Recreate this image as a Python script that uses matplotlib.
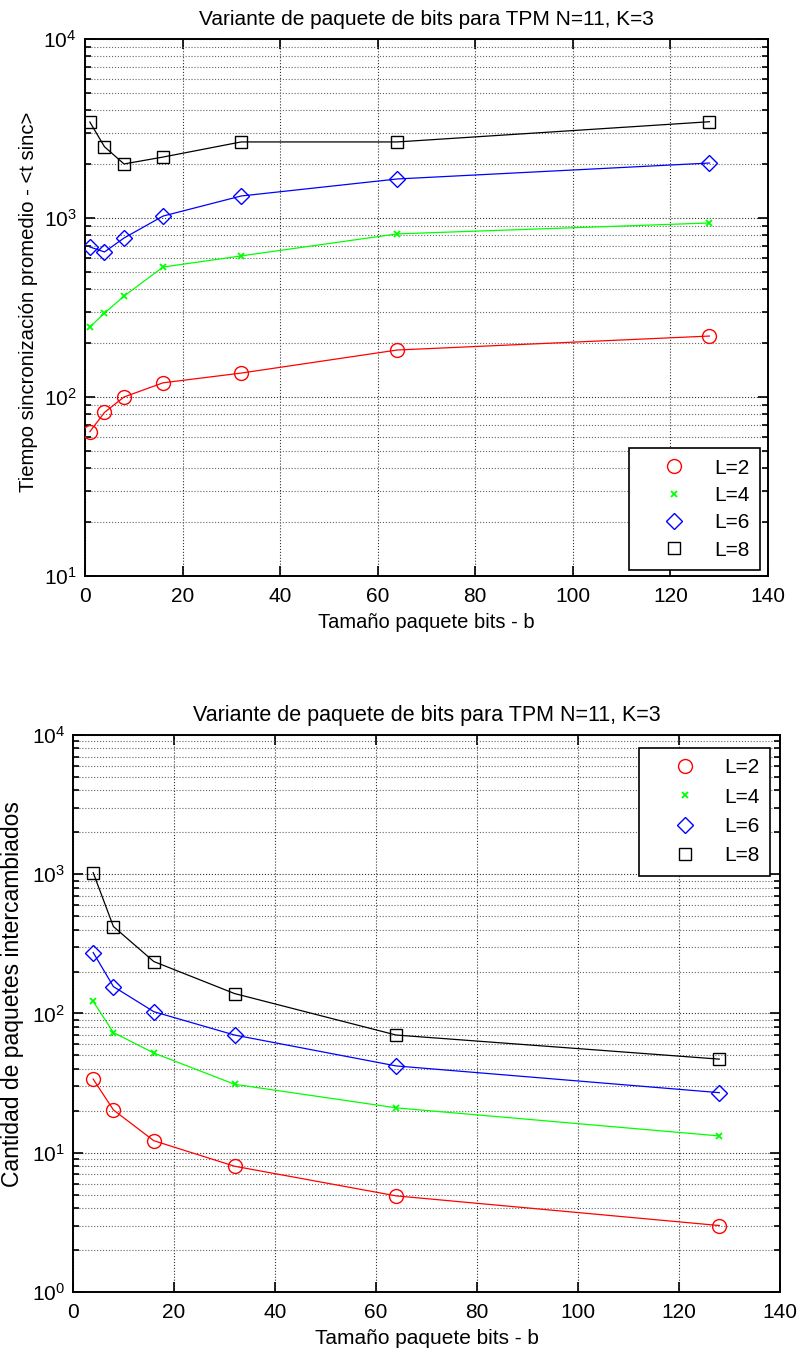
import matplotlib
matplotlib.use("Agg")
import matplotlib.pyplot as plt
from matplotlib.ticker import LogLocator, FixedLocator, NullFormatter

plt.rcParams['font.family'] = ['Liberation Sans', 'DejaVu Sans']
plt.rcParams['mathtext.fontset'] = 'custom'
plt.rcParams['mathtext.rm'] = 'Liberation Sans'
plt.rcParams['mathtext.it'] = 'Liberation Sans'

title = "Variante de paquete de bits para TPM N=11, K=3"
xlabel = "Tamaño paquete bits - b"
ylabel_top = "Tiempo sincronización promedio - <t sinc>"
ylabel_bot = "Cantidad de paquetes intercambiados"
labels = ["L=2", "L=4", "L=6", "L=8"]

# Top chart data
b_top = [1, 4, 8, 16, 32, 64, 128]
t_L2 = [64, 82, 100, 120, 136, 183, 219]
t_L4 = [246, 294, 366, 532, 614, 815, 938]
t_L6 = [689, 646, 773, 1025, 1327, 1652, 2028]
t_L8 = [3436, 2500, 2004, 2190, 2660, 2660, 3450]

# Bottom chart data
b_bot = [4, 8, 16, 32, 64, 128]
p_L2 = [33.8, 20.3, 12.2, 8.0, 4.9, 3.0]
p_L4 = [122, 73, 52, 31, 21, 13.2]
p_L6 = [274, 156, 103, 70, 42, 27]
p_L8 = [1025, 421, 236, 139, 70, 47]

colors = ['#ff0000', '#00ff00', '#0000ff', '#000000']
markers = ['o', 'x', 'D', 's']
msizes = [10, 5, 8, 9]

fig = plt.figure(figsize=(8.04, 13.54), dpi=100)
ax1 = fig.add_axes([0.1057, 0.5746, 0.8495, 0.3966])
ax2 = fig.add_axes([0.0908, 0.0458, 0.8792, 0.4114])

def style(ax, ylim, ylabel, tsize, xlsize, ylsize, ycoords):
    ax.set_yscale('log')
    ax.set_xlim(0, 140)
    ax.set_ylim(*ylim)
    ax.xaxis.set_major_locator(FixedLocator(range(0, 141, 20)))
    ax.yaxis.set_major_locator(LogLocator(base=10, numticks=10))
    ax.yaxis.set_minor_locator(LogLocator(base=10, subs=range(2, 10), numticks=20))
    ax.yaxis.set_minor_formatter(NullFormatter())
    ax.tick_params(which='both', direction='in', top=True, right=True,
                   labelsize=15, width=1.2, color='black')
    ax.tick_params(which='major', length=7)
    ax.tick_params(which='minor', length=4)
    ax.tick_params(axis='x', which='major', pad=8)
    ax.tick_params(axis='y', which='major', pad=6)
    ax.grid(True, which='major', axis='both', linestyle=':', color='0.2', linewidth=0.8)
    ax.grid(True, which='minor', axis='y', linestyle=':', color='0.4', linewidth=0.8)
    for s in ax.spines.values():
        s.set_linewidth(1.4)
    ax.set_title(title, fontsize=tsize, pad=10)
    ax.set_xlabel(xlabel, fontsize=xlsize, labelpad=5)
    ax.set_ylabel(ylabel, fontsize=ylsize)
    ax.yaxis.label.set_verticalalignment('center')
    ax.yaxis.set_label_coords(*ycoords)

def draw(ax, x, series):
    handles = []
    for y, c, m, ms, lab in zip(series, colors, markers, msizes, labels):
        ax.plot(x, y, '-', color=c, linewidth=0.9, zorder=3)
        h, = ax.plot(x, y, linestyle='none', marker=m, markersize=ms,
                     markerfacecolor='none', markeredgecolor=c,
                     markeredgewidth=1.0 if m != 'x' else 1.3, label=lab, zorder=4)
        handles.append(h)
    return handles

def legend(ax, handles, loc, anchor, spacing):
    leg = ax.legend(handles=handles, loc=loc, fontsize=15, frameon=True,
                    fancybox=False, edgecolor='black', framealpha=1,
                    handlelength=3.4, handletextpad=0.2, borderpad=0.5,
                    labelspacing=spacing, borderaxespad=0,
                    bbox_to_anchor=anchor)
    leg.get_frame().set_linewidth(1.2)
    return leg

style(ax1, (10, 1e4), ylabel_top, 15, 14.5, 14.6, (-0.083, 0.511))
h1 = draw(ax1, b_top, [t_L2, t_L4, t_L6, t_L8])
legend(ax1, h1, 'lower right', (0.988, 0.011), 0.4)

style(ax2, (1, 1e4), ylabel_bot, 15.5, 15, 16.5, (-0.086, 0.535))
h2 = draw(ax2, b_bot, [p_L2, p_L4, p_L6, p_L8])
legend(ax2, h2, 'upper right', (0.986, 0.977), 0.5)

fig.savefig('out.png', dpi=100)
